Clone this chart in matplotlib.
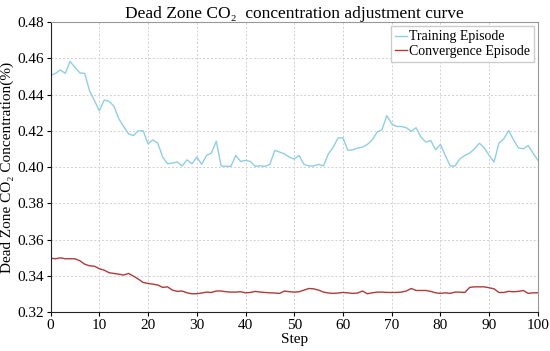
import matplotlib
matplotlib.use("Agg")
import matplotlib.pyplot as plt
import numpy as np

plt.rcParams['font.family'] = ['Liberation Serif', 'DejaVu Serif']

steps = np.arange(0, 101)

# training episode CO2 concentration (%)
training = [0.4505, 0.4517, 0.4536, 0.4517, 0.4583, 0.4550, 0.4520, 0.4517, 0.4420, 0.4367,
            0.4310, 0.4370, 0.4363, 0.4336, 0.4266, 0.4224, 0.4183, 0.4174, 0.4200, 0.4200,
            0.4128, 0.4150, 0.4132, 0.4055, 0.4018, 0.4022, 0.4028, 0.4006, 0.4040, 0.4018,
            0.4055, 0.4015, 0.4064, 0.4077, 0.4143, 0.4006, 0.4004, 0.4004, 0.4064, 0.4031,
            0.4037, 0.4031, 0.4004, 0.4007, 0.4004, 0.4015, 0.4092, 0.4083, 0.4073, 0.4055,
            0.4044, 0.4064, 0.4015, 0.4006, 0.4006, 0.4015, 0.4006, 0.4073, 0.4110, 0.4161,
            0.4161, 0.4092, 0.4095, 0.4105, 0.4110, 0.4125, 0.4150, 0.4193, 0.4206, 0.4284,
            0.4239, 0.4224, 0.4224, 0.4217, 0.4198, 0.4217, 0.4165, 0.4138, 0.4147, 0.4095,
            0.4125, 0.4064, 0.4006, 0.4006, 0.4046, 0.4064, 0.4077, 0.4101, 0.4132, 0.4106,
            0.4064, 0.4028, 0.4132, 0.4156, 0.4202, 0.4150, 0.4106, 0.4101, 0.4119, 0.4077,
            0.4037]

# convergence episode CO2 concentration (%)
convergence = [0.3497, 0.3494, 0.3499, 0.3494, 0.3494, 0.3494, 0.3483, 0.3464, 0.3455, 0.3453,
               0.3439, 0.3431, 0.3417, 0.3413, 0.3409, 0.3404, 0.3413, 0.3398, 0.3382, 0.3363,
               0.3358, 0.3354, 0.3349, 0.3336, 0.3339, 0.3321, 0.3314, 0.3316, 0.3306, 0.3301,
               0.3301, 0.3305, 0.3310, 0.3308, 0.3316, 0.3316, 0.3312, 0.3310, 0.3310, 0.3312,
               0.3306, 0.3308, 0.3314, 0.3310, 0.3308, 0.3306, 0.3305, 0.3303, 0.3316, 0.3312,
               0.3310, 0.3312, 0.3321, 0.3330, 0.3328, 0.3321, 0.3310, 0.3305, 0.3303, 0.3305,
               0.3308, 0.3306, 0.3303, 0.3305, 0.3316, 0.3301, 0.3306, 0.3310, 0.3310, 0.3308,
               0.3308, 0.3308, 0.3310, 0.3316, 0.3330, 0.3319, 0.3319, 0.3319, 0.3314, 0.3306,
               0.3303, 0.3306, 0.3303, 0.3310, 0.3310, 0.3308, 0.3336, 0.3339, 0.3339, 0.3339,
               0.3334, 0.3328, 0.3308, 0.3308, 0.3314, 0.3312, 0.3314, 0.3319, 0.3303, 0.3306,
               0.3306]

fig = plt.figure(figsize=(5.5, 3.51), dpi=100)
ax = fig.add_axes([0.092, 0.111, 0.886, 0.826])

ax.plot(steps, training, color='#8ecfe6', lw=1.0, label='Training Episode')
ax.plot(steps, convergence, color='#b03a3a', lw=1.0, label='Convergence Episode')

ax.set_xlim(0, 100)
ax.set_ylim(0.32, 0.48)
ax.set_xticks(np.arange(0, 101, 10))
ax.set_yticks(np.arange(0.32, 0.481, 0.02))
ax.set_yticklabels(['%.2f' % v for v in np.arange(0.32, 0.481, 0.02)])
ax.grid(True, linestyle=(0, (2, 2)), color='#d0d0d0', lw=0.7)
ax.tick_params(labelsize=11, length=3, pad=2)

ax.spines['top'].set_color('#999999')
ax.spines['right'].set_color('#999999')
ax.spines['left'].set_color('#222222')
ax.spines['bottom'].set_color('#222222')

ax.set_title('Dead Zone CO\u2082  concentration adjustment curve', fontsize=12.5, pad=3)
ax.set_xlabel('Step', fontsize=11, labelpad=1)
ax.set_ylabel('Dead Zone CO\u2082 Concentration(%)', fontsize=11, labelpad=2)

ax.legend(loc='upper right', fontsize=10, handlelength=0.9, handletextpad=0.1,
          borderpad=0.3, labelspacing=0.1, fancybox=False, framealpha=1,
          edgecolor='#cccccc', borderaxespad=0.3)

fig.savefig('out.png', dpi=100)
